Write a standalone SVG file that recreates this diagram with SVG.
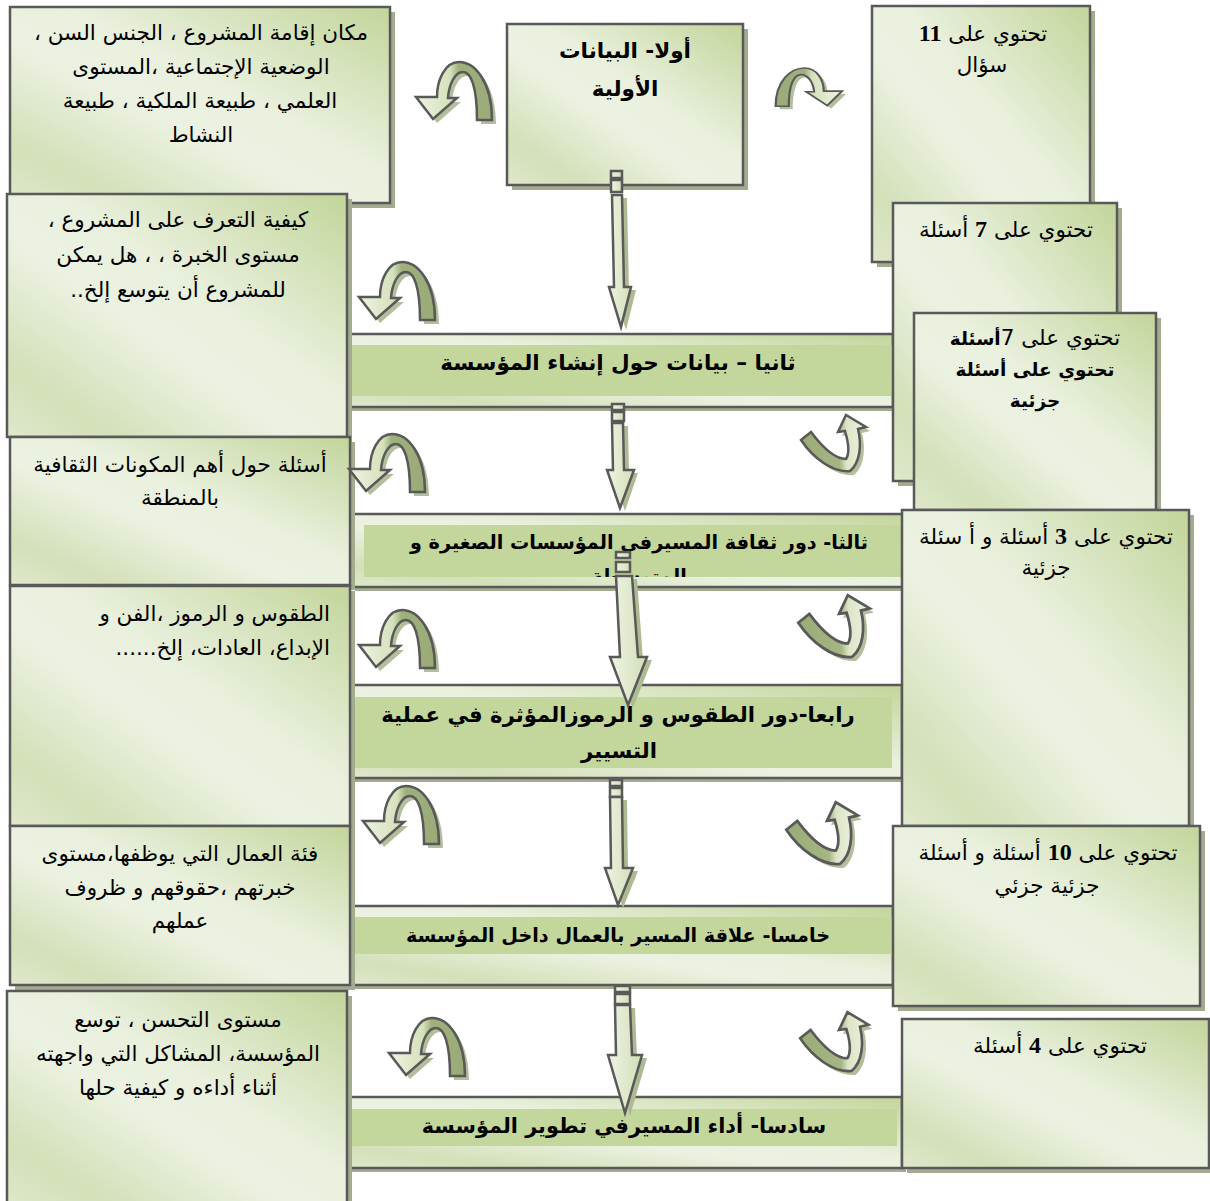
<svg xmlns="http://www.w3.org/2000/svg" xmlns:xlink="http://www.w3.org/1999/xlink" width="1210" height="1201" viewBox="0 0 1210 1201">
  <defs>
    <style>
      .box{fill:url(#paneFill);stroke:#595959;stroke-width:2.5}
      .band{fill:url(#paneFill);stroke:#595959;stroke-width:2.5}
      .core{fill:#c3d69b}
      .sh{fill:#a3ac8e}
      .t{font-family:'DejaVu Sans',sans-serif;font-size:21.5px;fill:#000;direction:rtl;text-anchor:middle}
      .r{text-anchor:start}
      .b{font-weight:bold;font-size:18.5px}
      .h{font-family:'DejaVu Sans',sans-serif;font-size:20px;font-weight:bold;fill:#000;direction:rtl;text-anchor:middle}
      .n{font-family:'Liberation Serif',serif;font-weight:bold;font-size:24px}
      .arw{fill:url(#shaftFill);stroke:#595959;stroke-width:2.5;stroke-linejoin:miter}
      .arwsh{fill:#aebb92}
      .curl{stroke:#595959;stroke-width:2.5;stroke-linejoin:miter}
      .curlsh{fill:#b3be9c}
    </style>
    <linearGradient id="paneFill" x1="1" y1="0" x2="0" y2="1">
      <stop offset="0" stop-color="#c2d59a"/>
      <stop offset="0.42" stop-color="#e9f0dd"/>
      <stop offset="0.58" stop-color="#ecf2e2"/>
      <stop offset="0.85" stop-color="#d3e0b8"/>
      <stop offset="1" stop-color="#dfe8cc"/>
    </linearGradient>
    <linearGradient id="shaftFill" x1="0" y1="0" x2="1" y2="0">
      <stop offset="0" stop-color="#eef3e4"/>
      <stop offset="1" stop-color="#d2dfb6"/>
    </linearGradient>
    <linearGradient id="curlLFill" x1="0" y1="0" x2="1" y2="0">
      <stop offset="0" stop-color="#eef3e4"/>
      <stop offset="0.45" stop-color="#d5e1bb"/>
      <stop offset="0.56" stop-color="#9fb07c"/>
      <stop offset="1" stop-color="#9aab77"/>
    </linearGradient>
    <linearGradient id="curlUFill" x1="0" y1="0" x2="1" y2="0">
      <stop offset="0" stop-color="#9aab77"/>
      <stop offset="0.6" stop-color="#a6b683"/>
      <stop offset="0.7" stop-color="#dbe5c6"/>
      <stop offset="1" stop-color="#eef3e4"/>
    </linearGradient>
    <!-- U-turn arrow, head pointing down-left -->
    <path id="curlL" d="M77,58 C77,20 60,0 44,0 C30,0 22,18 22,35 L1,35 L18,57 L42,36 L33,36 C34,22 40,10 48,10 C56,10 62,25 62,58 Z"/>
    <!-- hook arrow, head pointing up -->
    <path id="curlU" d="M3,27 L13,19 C25,35 38,46 48,46 C52,40 50,28 47,18 L40,19 L48,2 L68,14 L60,16 C64,32 62,50 52,58 C35,60 15,45 3,27 Z"/>
    <clipPath id="clipB3"><rect x="364" y="525" width="539" height="52"/></clipPath>
  </defs>

  <!-- central section bands -->
  <g id="band2">
    <rect class="sh" x="351" y="338" width="546" height="73"/>
    <rect class="band" x="347" y="334" width="546" height="73"/>
    <rect class="core" x="348" y="345" width="544" height="51"/>
    <text class="h" x="618" y="370" style="font-size:21.5px">ثانيا – بيانات حول إنشاء المؤسسة</text>
  </g>
  <g id="band3">
    <rect class="sh" x="355" y="518" width="552" height="73"/>
    <rect class="band" x="351" y="514" width="552" height="73"/>
    <rect class="core" x="364" y="525" width="539" height="52"/>
    <g clip-path="url(#clipB3)">
      <text class="h" x="639" y="549" style="font-size:19.2px">ثالثا- دور ثقافة المسيرفي المؤسسات الصغيرة و</text>
      <text class="h" x="639" y="583" style="font-size:19.2px">المتوسطة</text>
    </g>
  </g>
  <g id="band4">
    <rect class="sh" x="354" y="689" width="552" height="93"/>
    <rect class="band" x="350" y="685" width="552" height="93"/>
    <rect class="core" x="355" y="697" width="537" height="71"/>
    <text class="h" x="618" y="722" style="font-size:21.2px">رابعا-دور الطقوس و الرموزالمؤثرة في عملية</text>
    <text class="h" x="619" y="758" style="font-size:21.2px">التسيير</text>
  </g>
  <g id="band5">
    <rect class="sh" x="354" y="910" width="543" height="79"/>
    <rect class="band" x="350" y="906" width="543" height="79"/>
    <rect class="core" x="355" y="917" width="537" height="37"/>
    <text class="h" x="618" y="942" style="font-size:19.2px">خامسا- علاقة المسير بالعمال داخل المؤسسة</text>
  </g>
  <g id="band6">
    <rect class="sh" x="351" y="1101" width="555" height="71"/>
    <rect class="band" x="347" y="1097" width="555" height="71"/>
    <rect class="core" x="349" y="1109" width="548" height="37"/>
    <text class="h" x="624" y="1133" style="font-size:20.8px">سادسا- أداء المسيرفي تطوير المؤسسة</text>
  </g>

  <!-- top section -->
  <g id="section1">
    <rect class="sh" x="512" y="29" width="236" height="161"/>
    <rect class="box" x="507" y="24" width="236" height="161"/>
    <text class="h" x="625" y="58" style="font-size:21.5px">أولا- البيانات</text>
    <text class="h" x="625" y="96" style="font-size:21.5px">الأولية</text>
  </g>

  <!-- left description panes -->
  <g id="desc1">
    <rect class="sh" x="15" y="12" width="380" height="196"/>
    <rect class="box" x="10" y="7" width="380" height="196"/>
    <text class="t" x="201" y="40">مكان إقامة المشروع ، الجنس السن ،</text>
    <text class="t" x="201" y="74">الوضعية الإجتماعية ،المستوى</text>
    <text class="t" x="200" y="108">العلمي ، طبيعة الملكية ، طبيعة</text>
    <text class="t" x="201" y="142">النشاط</text>
  </g>
  <g id="desc2">
    <rect class="sh" x="12" y="199" width="340" height="243"/>
    <rect class="box" x="7" y="194" width="340" height="243"/>
    <text class="t" x="178" y="227">كيفية التعرف على المشروع ،</text>
    <text class="t" x="178" y="262">مستوى الخبرة ، ، هل يمكن</text>
    <text class="t" x="178" y="297">للمشروع أن يتوسع إلخ..</text>
  </g>
  <g id="desc3">
    <rect class="sh" x="15" y="442" width="340" height="148"/>
    <rect class="box" x="10" y="437" width="340" height="148"/>
    <text class="t" x="180" y="472">أسئلة حول أهم المكونات الثقافية</text>
    <text class="t" x="180" y="505">بالمنطقة</text>
  </g>
  <g id="desc4">
    <rect class="sh" x="15" y="591" width="340" height="240"/>
    <rect class="box" x="10" y="586" width="340" height="240"/>
    <text class="t r" x="330" y="621">الطقوس و الرموز ،الفن و</text>
    <text class="t r" x="330" y="655">الإبداع، العادات، إلخ......</text>
  </g>
  <g id="desc5">
    <rect class="sh" x="15" y="831" width="340" height="159"/>
    <rect class="box" x="10" y="826" width="340" height="159"/>
    <text class="t" x="180" y="861">فئة العمال التي يوظفها،مستوى</text>
    <text class="t" x="180" y="895">خبرتهم ،حقوقهم و ظروف</text>
    <text class="t" x="180" y="928">عملهم</text>
  </g>
  <g id="desc6">
    <rect class="sh" x="12" y="996" width="340" height="215"/>
    <rect class="box" x="7" y="991" width="340" height="215"/>
    <text class="t" x="178" y="1027">مستوى التحسن ، توسع</text>
    <text class="t" x="178" y="1061">المؤسسة، المشاكل التي واجهته</text>
    <text class="t" x="178" y="1095">أثناء أداءه و كيفية حلها</text>
  </g>

  <!-- right question-count panes -->
  <g id="count1">
    <rect class="sh" x="877" y="11" width="218" height="256"/>
    <rect class="box" x="872" y="6" width="218" height="256"/>
    <text class="t" x="983" y="41">تحتوي على <tspan class="n">11</tspan></text>
    <text class="t" x="982" y="72">سؤال</text>
  </g>
  <g id="count2">
    <rect class="sh" x="898" y="208" width="224" height="278"/>
    <rect class="box" x="893" y="203" width="224" height="278"/>
    <text class="t" x="1006" y="237">تحتوي على <tspan class="n">7</tspan> أسئلة</text>
  </g>
  <g id="count3">
    <rect class="sh" x="919" y="318" width="242" height="197"/>
    <rect class="box" x="914" y="313" width="242" height="197"/>
    <text class="t" x="1035" y="345">تحتوي على 7<tspan class="b">أسئلة</tspan></text>
    <text class="t b" x="1035" y="376">تحتوي على أسئلة</text>
    <text class="t b" x="1035" y="407">جزئية</text>
  </g>
  <g id="count4">
    <rect class="sh" x="907" y="515" width="287" height="316"/>
    <rect class="box" x="902" y="510" width="287" height="316"/>
    <text class="t" x="1046" y="544">تحتوي على <tspan class="n">3</tspan> أسئلة و أ سئلة</text>
    <text class="t" x="1046" y="575">جزئية</text>
  </g>
  <g id="count5">
    <rect class="sh" x="898" y="831" width="307" height="180"/>
    <rect class="box" x="893" y="826" width="307" height="180"/>
    <text class="t" x="1048" y="860">تحتوي على <tspan class="n">10</tspan> أسئلة و أسئلة</text>
    <text class="t" x="1047" y="893">جزئية جزئي</text>
  </g>
  <g id="count6">
    <rect class="sh" x="907" y="1024" width="307" height="149"/>
    <rect class="box" x="902" y="1019" width="307" height="149"/>
    <text class="t" x="1060" y="1053">تحتوي على <tspan class="n">4</tspan> أسئلة</text>
  </g>

  <!-- connectors -->
  <g id="connectors">
    <!-- downward flow arrows -->
    <g id="down1">
      <path class="arwsh" d="M617,198 L627,198 L629,290 L636,290 L626,330 L614,290 L619,290 Z"/>
      <rect class="arw" x="611" y="171" width="11" height="7"/>
      <rect class="arw" x="611" y="180" width="11" height="12"/>
      <path class="arw" d="M612,195 L622,195 L624,287 L631,287 L621,327 L609,287 L614,287 Z"/>
    </g>
    <g id="down2">
      <path class="arwsh" d="M617,426 L628,426 L629,473 L638,473 L625,511 L612,473 L618,473 Z"/>
      <rect class="arw" x="612" y="404" width="12" height="6"/>
      <rect class="arw" x="612" y="412" width="12" height="9"/>
      <path class="arw" d="M612,423 L623,423 L624,470 L634,470 L620,508 L607,470 L613,470 Z"/>
    </g>
    <g id="down3">
      <path class="arwsh" d="M621,579 L637,579 L643,660 L652,660 L633,708 L615,660 L625,660 Z"/>
      <rect class="arw" x="616" y="552" width="14" height="6"/>
      <rect class="arw" x="616" y="562" width="14" height="10"/>
      <path class="arw" d="M616,576 L632,576 L638,657 L647,657 L628,705 L610,657 L620,657 Z"/>
    </g>
    <g id="down4">
      <path class="arwsh" d="M615,800 L627,800 L628,871 L638,871 L623,908 L610,871 L616,871 Z"/>
      <rect class="arw" x="610" y="780" width="12" height="6"/>
      <rect class="arw" x="610" y="788" width="12" height="9"/>
      <path class="arw" d="M610,797 L622,797 L623,868 L633,868 L618,905 L605,868 L611,868 Z"/>
    </g>
    <g id="down5">
      <path class="arwsh" d="M620,1008 L635,1008 L637,1058 L647,1058 L630,1116 L613,1058 L621,1058 Z"/>
      <rect class="arw" x="615" y="986" width="15" height="6"/>
      <rect class="arw" x="615" y="994" width="15" height="10"/>
      <path class="arw" d="M615,1005 L630,1005 L632,1055 L642,1055 L625,1113 L608,1055 L616,1055 Z"/>
    </g>

    <!-- U-turn arrows beside the panes -->
    <use href="#curlL" class="curlsh" transform="translate(419,66)"/>
    <use href="#curlL" class="curl" fill="url(#curlLFill)" transform="translate(415,62)"/>
    <use href="#curlL" class="curlsh" transform="translate(362,266)"/>
    <use href="#curlL" class="curl" fill="url(#curlLFill)" transform="translate(358,262)"/>
    <use href="#curlL" class="curlsh" transform="translate(352,438)"/>
    <use href="#curlL" class="curl" fill="url(#curlLFill)" transform="translate(348,434)"/>
    <use href="#curlL" class="curlsh" transform="translate(362,614)"/>
    <use href="#curlL" class="curl" fill="url(#curlLFill)" transform="translate(358,610)"/>
    <use href="#curlL" class="curlsh" transform="translate(366,790)"/>
    <use href="#curlL" class="curl" fill="url(#curlLFill)" transform="translate(362,786)"/>
    <use href="#curlL" class="curlsh" transform="translate(392,1022)"/>
    <use href="#curlL" class="curl" fill="url(#curlLFill)" transform="translate(388,1018)"/>

    <use href="#curlL" class="curlsh" transform="translate(847,71) scale(-0.875,0.66)"/>
    <use href="#curlL" class="curl" fill="url(#curlLFill)" transform="translate(843,68) scale(-0.875,0.66)"/>

    <use href="#curlU" class="curlsh" transform="translate(802,417)"/>
    <use href="#curlU" class="curl" fill="url(#curlUFill)" transform="translate(798,413)"/>
    <use href="#curlU" class="curlsh" transform="translate(799,597) scale(1.1)"/>
    <use href="#curlU" class="curl" fill="url(#curlUFill)" transform="translate(795,593) scale(1.1)"/>
    <use href="#curlU" class="curlsh" transform="translate(787,804) scale(1.1)"/>
    <use href="#curlU" class="curl" fill="url(#curlUFill)" transform="translate(783,800) scale(1.1)"/>
    <use href="#curlU" class="curlsh" transform="translate(801,1014) scale(1.05)"/>
    <use href="#curlU" class="curl" fill="url(#curlUFill)" transform="translate(797,1010) scale(1.05)"/>
  </g>
</svg>
